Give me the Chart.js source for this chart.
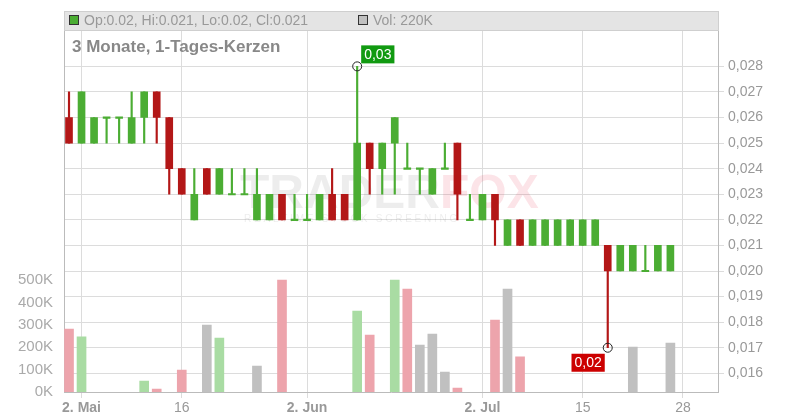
<!DOCTYPE html>
<html>
<head>
<meta charset="utf-8">
<script src="https://cdn.jsdelivr.net/npm/chart.js@4/dist/chart.umd.min.js"></script>
<style>
  body { margin: 0; background: #fff; }
  #wrap { width: 800px; height: 420px; }
</style>
</head>
<body>
<div id="wrap"><canvas id="grafico" width="800" height="420"></canvas></div>
<script>
// Kerzen (Index = Handelstag)
const opens  = [.026,.025,.025,.026,.026,.025,.026,.027,.026,.024,.022,.024,.023,.023,.023,.022,.022,.023,.022,.022,.022,.023,.023,.022,.025,.024,.025,.024,.024,.023,.024,.025,.022,.022,.023,.021,.022,.021,.021,.021,.021,.021,.021,.021,.020,.020,.020,.020,.020];
const highs  = [.027,.027,.026,.026,.026,.027,.027,.027,.026,.024,.024,.024,.024,.024,.024,.024,.023,.023,.023,.023,.023,.024,.023,.028,.025,.025,.026,.025,.024,.024,.025,.025,.023,.023,.023,.022,.022,.022,.022,.022,.022,.022,.022,.021,.021,.021,.021,.021,.021];
const lows   = [.025,.025,.025,.025,.025,.025,.025,.025,.023,.023,.022,.023,.023,.023,.023,.022,.022,.022,.022,.022,.022,.022,.022,.022,.023,.023,.023,.024,.023,.023,.024,.022,.022,.022,.021,.021,.021,.021,.021,.021,.021,.021,.021,.017,.020,.020,.020,.020,.020];
const closes = [.025,.027,.026,.026,.026,.026,.027,.026,.024,.023,.023,.023,.024,.023,.023,.023,.023,.022,.022,.022,.023,.022,.022,.025,.024,.025,.026,.024,.024,.024,.024,.023,.022,.023,.022,.022,.021,.022,.022,.022,.022,.022,.022,.020,.021,.021,.020,.021,.021];

// Volumen
const volTage  = [0, 1, 6, 7, 9, 11, 12, 15, 17, 23, 24, 26, 27, 28, 29, 30, 31, 34, 35, 36, 45, 48];
const volWerte = [281000, 246000, 49000, 13000, 98000, 299000, 241000, 116000, 500000, 362000, 254000, 500000, 460000, 210000, 259000, 89000, 18000, 321000, 460000, 157000, 201000, 219000];
const volFarben = ['r','g','g','r','r','x','g','x','r','g','r','g','r','x','x','x','r','r','x','r','x','x'];

const xTickPos = [1, 9, 19, 33, 41, 49];
const xTickLabels = ['2. Mai', '16', '2. Jun', '2. Jul', '15', '28'];
const xTickBold = [true, false, true, true, false, false];
const preisTicks = [.016, .017, .018, .019, .020, .021, .022, .023, .024, .025, .026, .027, .028];

const GRUEN = '#4bad33', ROT = '#b31717';
const volColorMap = { g: '#a9dca3', r: '#eda4ac', x: '#c0c0c0' };

const farbe = i => closes[i] < opens[i] ? ROT : GRUEN;
const dochte = opens.map((o, i) => ({ x: i, y: [lows[i], highs[i]] }));
const koerper = opens.map((o, i) => {
    if (o === closes[i]) return { x: i, y: [o - 0.00003, o + 0.00003] };
    return { x: i, y: [Math.min(o, closes[i]), Math.max(o, closes[i])] };
});
const dojiBreite = opens.map((o, i) => o === closes[i] ? 6 : 7);

const fmtKomma = v => v.toFixed(3).replace('.', ',');

const deko = {
    id: 'deko',
    beforeDatasetsDraw(chart) {
        const ctx = chart.ctx;
        ctx.save();
        ctx.globalAlpha = 0.13;
        ctx.font = 'bold 48px "Liberation Sans", Arial';
        ctx.textBaseline = 'alphabetic';
        ctx.fillStyle = '#777';
        ctx.fillText('TRADER', 240, 208);
        const w = ctx.measureText('TRADER').width;
        ctx.fillStyle = '#e8304a';
        ctx.fillText('FOX', 240 + w, 208);
        ctx.fillStyle = '#777';
        ctx.font = '10px "Liberation Sans", Arial';
        ctx.fillText('R E A L T I M E   S T O C K   S C R E E N I N G', 244, 222);
        ctx.restore();
    },
    afterDraw(chart) {
        const ctx = chart.ctx;
        const x = chart.scales.x, y = chart.scales.y;
        const a = chart.chartArea;
        ctx.save();
        // Kopfzeile
        ctx.fillStyle = '#e4e4e4';
        ctx.fillRect(a.left, 11, a.right - a.left, 19);
        ctx.strokeStyle = '#cfcfcf';
        ctx.strokeRect(a.left + 0.5, 11.5, a.right - a.left, 19);
        ctx.fillStyle = GRUEN; ctx.strokeStyle = '#333'; ctx.lineWidth = 1;
        ctx.fillRect(69, 15, 10, 10); ctx.strokeRect(69.5, 15.5, 9, 9);
        ctx.fillStyle = '#c0c0c0';
        ctx.fillRect(358, 15, 10, 10); ctx.strokeRect(358.5, 15.5, 9, 9);
        ctx.fillStyle = '#999';
        ctx.font = '14px "Liberation Sans", Arial';
        ctx.textBaseline = 'middle';
        ctx.fillText('Op:0.02, Hi:0.021, Lo:0.02, Cl:0.021', 84, 21);
        ctx.fillText('Vol: 220K', 373, 21);
        ctx.fillStyle = '#888';
        ctx.font = 'bold 17px "Liberation Sans", Arial';
        ctx.fillText('3 Monate, 1-Tages-Kerzen', 72, 47);
        // Markierungen Hoch / Tief
        const marke = (idx, preis, text, bg, dx, dy) => {
            const px = x.getPixelForValue(idx), py = y.getPixelForValue(preis);
            ctx.beginPath(); ctx.arc(px, py, 4.5, 0, Math.PI * 2);
            ctx.strokeStyle = '#222'; ctx.lineWidth = 1; ctx.stroke();
            ctx.font = '14px "Liberation Sans", Arial';
            const w = ctx.measureText(text).width + 6;
            ctx.fillStyle = bg;
            ctx.fillRect(px + dx(w), py + dy, w, 18);
            ctx.fillStyle = '#fff';
            ctx.fillText(text, px + dx(w) + 3, py + dy + 9.5);
        };
        marke(23, 0.028, '0,03', '#119a11', w => 4, -21);
        marke(43, 0.017, '0,02', '#cc0000', w => -w - 3, 6);
        ctx.restore();
    }
};

new Chart(document.getElementById('grafico'), {
    type: 'bar',
    data: {
        datasets: [
            {
                label: 'Volumen', yAxisID: 'vol', order: 3, grouped: false,
                data: volTage.map((t, i) => ({ x: t, y: volWerte[i] })),
                backgroundColor: volFarben.map(c => volColorMap[c]),
                barThickness: 9
            },
            {
                label: 'Docht', yAxisID: 'y', order: 2, grouped: false,
                data: dochte,
                backgroundColor: opens.map((o, i) => farbe(i)),
                barThickness: 1.5
            },
            {
                label: 'Körper', yAxisID: 'y', order: 1, grouped: false,
                data: koerper,
                backgroundColor: opens.map((o, i) => farbe(i)),
                barThickness: dojiBreite
            }
        ]
    },
    plugins: [deko],
    options: {
        animation: false, responsive: false,
        layout: { padding: { top: 11 } },
        plugins: { legend: { display: false }, tooltip: { enabled: false } },
        scales: {
            x: {
                type: 'linear', min: -0.4, max: 51.8, offset: false, bounds: 'ticks',
                afterBuildTicks: s => { s.ticks = xTickPos.map(v => ({ value: v })); },
                afterDataLimits: s => { s.min = -0.4; s.max = 51.8; },
                afterFit: s => { s.height = 28; },
                ticks: {
                    color: '#999', padding: 2,
                    callback: v => xTickLabels[xTickPos.indexOf(v)],
                    font: c => ({ size: 14, family: '"Liberation Sans", Arial',
                        weight: xTickBold[xTickPos.indexOf(c.tick ? c.tick.value : -1)] ? 'bold' : 'normal' })
                },
                grid: { color: '#dcdcdc', tickLength: 6, offset: false },
                border: { color: '#bbb' }
            },
            y: {
                position: 'right', min: 0.01527, max: 0.03011,
                afterBuildTicks: s => { s.ticks = preisTicks.map(v => ({ value: v })); },
                afterFit: s => { s.width = 82; },
                ticks: { color: '#999', font: { size: 14, family: '"Liberation Sans", Arial' }, callback: v => fmtKomma(v), padding: 4 },
                grid: { color: '#dcdcdc', tickLength: 6 },
                border: { color: '#bbb' }
            },
            vol: {
                position: 'left', min: 0, max: 1696000,
                afterBuildTicks: s => { s.ticks = [0, 1, 2, 3, 4, 5].map(k => ({ value: k * 100000 })); },
                afterFit: s => { s.width = 64; },
                ticks: { color: '#aaa', font: { size: 15, family: '"Liberation Sans", Arial' }, callback: v => (v / 1000) + 'K', padding: 3 },
                grid: { display: false },
                border: { color: '#bbb' }
            }
        }
    }
});
</script>
</body>
</html>
